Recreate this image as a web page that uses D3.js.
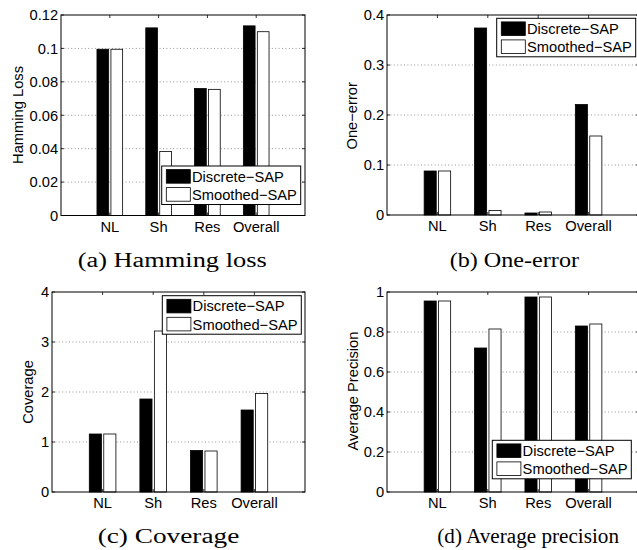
<!DOCTYPE html>
<html>
<head>
<meta charset="utf-8">
<script src="https://cdn.jsdelivr.net/npm/d3@7"></script>
<style>
  html, body { margin: 0; padding: 0; background: #fff; }
  svg { display: block; }
  .sans { font-family: "Liberation Sans", Arial, Helvetica, sans-serif; }
  .serif { font-family: "Liberation Serif", "Times New Roman", serif; }
</style>
</head>
<body>
<svg id="chart" width="637" height="550"></svg>
<script>
// ---- data ----
const categories = ["NL", "Sh", "Res", "Overall"];
const seriesNames = ["Discrete\u2212SAP", "Smoothed\u2212SAP"];

const hammingDiscrete = [0.0995, 0.1123, 0.0760, 0.1135];
const hammingSmoothed = [0.0995, 0.0383, 0.0755, 0.1100];
const hammingTicks = [0, 0.02, 0.04, 0.06, 0.08, 0.1, 0.12];
const hammingTickLabels = ["0", "0.02", "0.04", "0.06", "0.08", "0.1", "0.12"];

const oneErrorDiscrete = [0.088, 0.374, 0.004, 0.221];
const oneErrorSmoothed = [0.088, 0.009, 0.006, 0.158];
const oneErrorTicks = [0, 0.1, 0.2, 0.3, 0.4];
const oneErrorTickLabels = ["0", "0.1", "0.2", "0.3", "0.4"];

const coverageDiscrete = [1.16, 1.86, 0.83, 1.64];
const coverageSmoothed = [1.16, 3.22, 0.82, 1.97];
const coverageTicks = [0, 1, 2, 3, 4];
const coverageTickLabels = ["0", "1", "2", "3", "4"];

const precisionDiscrete = [0.955, 0.72, 0.975, 0.83];
const precisionSmoothed = [0.955, 0.815, 0.975, 0.84];
const precisionTicks = [0, 0.2, 0.4, 0.6, 0.8, 1];
const precisionTickLabels = ["0", "0.2", "0.4", "0.6", "0.8", "1"];

// ---- layout (positions/styles) ----
const panels = [
  { discrete: hammingDiscrete, smoothed: hammingSmoothed, ticks: hammingTicks, tickLabels: hammingTickLabels,
    ylabel: "Hamming Loss", caption: "(a) Hamming loss",
    left: 61, right: 305, top: 15, bottom: 215.5,
    ylabelX: 23.3, ylabelY: 115,
    legendX: 161.7, legendY: 166,
    capX: 77.7, capY: 266.7, capW: 189 },
  { discrete: oneErrorDiscrete, smoothed: oneErrorSmoothed, ticks: oneErrorTicks, tickLabels: oneErrorTickLabels,
    ylabel: "One\u2212error", caption: "(b) One-error",
    left: 387, right: 639, top: 15, bottom: 215,
    ylabelX: 357.3, ylabelY: 115.8,
    legendX: 496.7, legendY: 18.3,
    capX: 449.7, capY: 266.7, capW: 129.3 },
  { discrete: coverageDiscrete, smoothed: coverageSmoothed, ticks: coverageTicks, tickLabels: coverageTickLabels,
    ylabel: "Coverage", caption: "(c) Coverage",
    left: 52, right: 305, top: 292, bottom: 492,
    ylabelX: 33.3, ylabelY: 392,
    legendX: 162.3, legendY: 295.7,
    capX: 97.7, capY: 542.5, capW: 141.6 },
  { discrete: precisionDiscrete, smoothed: precisionSmoothed, ticks: precisionTicks, tickLabels: precisionTickLabels,
    ylabel: "Average Precision", caption: "(d) Average precision",
    left: 387, right: 639, top: 292, bottom: 492,
    ylabelX: 358, ylabelY: 391,
    legendX: 492.3, legendY: 440.3,
    capX: 437.3, capY: 542.5, capW: 181.7 }
];

const FS = 14.7;
const svg = d3.select("#chart");

panels.forEach(p => {
  const g = svg.append("g");
  const x = d3.scaleLinear().domain([0, 5]).range([p.left, p.right]);
  const y = d3.scaleLinear().domain([p.ticks[0], p.ticks[p.ticks.length - 1]]).range([p.bottom, p.top]);

  // clip so the (b)/(d) axes can run past the page edge
  // grid lines (dotted), excluding bottom and top
  g.append("g").selectAll("line")
    .data(p.ticks.slice(1, -1))
    .join("line")
    .attr("x1", p.left).attr("x2", p.right)
    .attr("y1", d => y(d)).attr("y2", d => y(d))
    .attr("stroke", "#8a8a8a").attr("stroke-width", 0.9)
    .attr("stroke-dasharray", "1,2.4");

  // bars
  const barW = 0.24, off = 0.143;
  const series = [
    { vals: p.discrete, fill: "#000", dx: -off },
    { vals: p.smoothed, fill: "#fff", dx: off }
  ];
  series.forEach(s => {
    g.append("g").selectAll("rect")
      .data(s.vals)
      .join("rect")
      .attr("x", (d, i) => x(i + 1 + s.dx - barW / 2))
      .attr("width", x(barW) - x(0))
      .attr("y", d => y(d))
      .attr("height", d => y(0) - y(d))
      .attr("fill", s.fill)
      .attr("stroke", "#000").attr("stroke-width", 0.8);
  });

  // axes box
  g.append("rect")
    .attr("x", p.left).attr("y", p.top)
    .attr("width", p.right - p.left).attr("height", p.bottom - p.top)
    .attr("fill", "none").attr("stroke", "#000").attr("stroke-width", 1);

  // y ticks (inward, both sides)
  const tl = 3;
  g.append("g").selectAll("line")
    .data(p.ticks)
    .join("line")
    .attr("x1", p.left).attr("x2", p.left + tl)
    .attr("y1", d => y(d)).attr("y2", d => y(d))
    .attr("stroke", "#000").attr("stroke-width", 0.8);
  g.append("g").selectAll("line")
    .data(p.ticks)
    .join("line")
    .attr("x1", p.right).attr("x2", p.right - tl)
    .attr("y1", d => y(d)).attr("y2", d => y(d))
    .attr("stroke", "#000").attr("stroke-width", 0.8);
  // x ticks (inward, bottom and top)
  g.append("g").selectAll("line")
    .data(categories)
    .join("line")
    .attr("x1", (d, i) => x(i + 1)).attr("x2", (d, i) => x(i + 1))
    .attr("y1", p.bottom).attr("y2", p.bottom - tl)
    .attr("stroke", "#000").attr("stroke-width", 0.8);
  g.append("g").selectAll("line")
    .data(categories)
    .join("line")
    .attr("x1", (d, i) => x(i + 1)).attr("x2", (d, i) => x(i + 1))
    .attr("y1", p.top).attr("y2", p.top + tl)
    .attr("stroke", "#000").attr("stroke-width", 0.8);

  // y tick labels
  g.append("g").selectAll("text")
    .data(p.ticks)
    .join("text")
    .attr("class", "sans")
    .attr("x", p.left - 2.8)
    .attr("y", d => y(d))
    .attr("dy", "0.36em")
    .attr("text-anchor", "end")
    .attr("font-size", FS)
    .text((d, i) => p.tickLabels[i]);

  // x tick labels
  g.append("g").selectAll("text")
    .data(categories)
    .join("text")
    .attr("class", "sans")
    .attr("x", (d, i) => x(i + 1))
    .attr("y", p.bottom + 16.3)
    .attr("text-anchor", "middle")
    .attr("font-size", FS)
    .text(d => d);

  // y label
  g.append("text")
    .attr("class", "sans")
    .attr("transform", `translate(${p.ylabelX},${p.ylabelY}) rotate(-90)`)
    .attr("text-anchor", "middle")
    .attr("font-size", FS)
    .text(p.ylabel);

  // legend
  const lw = 139, lh = 38.5;
  const lg = g.append("g").attr("transform", `translate(${p.legendX},${p.legendY})`);
  lg.append("rect").attr("width", lw).attr("height", lh)
    .attr("fill", "#fff").attr("stroke", "#000").attr("stroke-width", 1);
  const rows = [{ name: seriesNames[0], fill: "#000" }, { name: seriesNames[1], fill: "#fff" }];
  lg.selectAll("g.row").data(rows).join("g").attr("class", "row")
    .each(function (d, i) {
      const r = d3.select(this);
      r.append("rect")
        .attr("x", 4.6).attr("y", 3.6 + i * 18)
        .attr("width", 24).attr("height", 13.6)
        .attr("fill", d.fill).attr("stroke", "#000").attr("stroke-width", 0.8);
      r.append("text")
        .attr("class", "sans")
        .attr("x", 30.3).attr("y", 15.8 + i * 18.3)
        .attr("font-size", FS)
        .text(d.name);
    });

  // caption
  svg.append("text")
    .attr("class", "serif")
    .attr("x", p.capX).attr("y", p.capY)
    .attr("font-size", 20.5)
    .attr("textLength", p.capW)
    .attr("lengthAdjust", "spacingAndGlyphs")
    .text(p.caption);
});
</script>
</body>
</html>
